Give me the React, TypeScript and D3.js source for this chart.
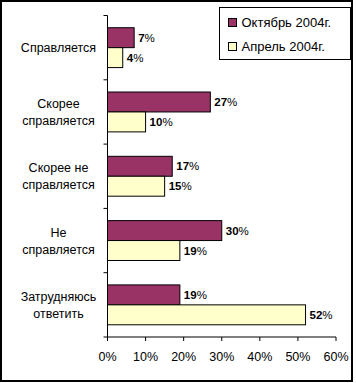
import React from "react";
import * as d3 from "d3";

const categories = [
  ["Справляется"],
  ["Скорее", "справляется"],
  ["Скорее не", "справляется"],
  ["Не", "справляется"],
  ["Затрудняюсь", "ответить"],
];
const seriesNames = ["Октябрь 2004г.", "Апрель 2004г."];
const october = [7, 27, 17, 30, 19];
const april = [4, 10, 15, 19, 52];
const xTicks = [0, 10, 20, 30, 40, 50, 60];
const colors = ["#993366", "#FFFFCC"];

export default function App() {
  const W = 356, H = 383;
  const left = 107.5, right = 336, top = 15.5, bottom = 337;
  const x = d3.scaleLinear().domain([0, 60]).range([left, right]);
  const yOuter = d3.scaleBand<number>().domain(d3.range(categories.length)).range([top, bottom]);
  const y = d3.scaleBand<number>().domain(d3.range(categories.length)).range([top, bottom]).paddingInner(0.38).paddingOuter(0.19);
  const ySub = d3.scaleBand<number>().domain([0, 1]).range([0, y.bandwidth()]);
  const series = [october, april];
  const font = "Arial, 'Liberation Sans', sans-serif";
  const step = yOuter.step();
  return (
    <svg width={W} height={H} style={{ position: "absolute", left: 0, top: 0 }} fontFamily={font}>
      <rect x={0} y={0} width={W} height={H} fill="#fff" />
      <rect x={1} y={1} width={351} height={380} fill="#fff" stroke="#000" strokeWidth={2} />
      {/* bars */}
      {series.map((vals, s) =>
        vals.map((v, i) => {
          const by = (y(i) as number) + (ySub(s) as number);
          return (
            <g key={`${s}-${i}`}>
              <rect x={x(0)} y={by} width={x(v) - x(0)} height={ySub.bandwidth()} fill={colors[s]} stroke="#000" strokeWidth={1} />
              <text x={x(v) + 4} y={by + ySub.bandwidth() / 2 + 4} fontSize={11.5}>
                <tspan fontWeight="bold">{v}</tspan>
                <tspan>%</tspan>
              </text>
            </g>
          );
        })
      )}
      {/* y axis */}
      <line x1={left} x2={left} y1={top} y2={bottom} stroke="#000" />
      {d3.range(categories.length + 1).map((i) => (
        <line key={i} x1={left - 4} x2={left} y1={top + i * step} y2={top + i * step} stroke="#000" />
      ))}
      {categories.map((lines, i) => {
        const cy = (yOuter(i) as number) + step / 2;
        const lh = 17;
        const y0 = cy - ((lines.length - 1) * lh) / 2 + 4.5;
        return (
          <text key={i} x={58.5} textAnchor="middle" fontSize={12.5}>
            {lines.map((l, j) => (
              <tspan key={j} x={58.5} y={y0 + j * lh}>{l}</tspan>
            ))}
          </text>
        );
      })}
      {/* x axis */}
      <line x1={left} x2={right} y1={bottom} y2={bottom} stroke="#000" />
      {xTicks.map((t) => (
        <g key={t}>
          <line x1={x(t)} x2={x(t)} y1={bottom} y2={bottom + 4} stroke="#000" />
          <text x={x(t)} y={361} textAnchor="middle" fontSize={12.5}>{t}%</text>
        </g>
      ))}
      {/* legend */}
      <rect x={219.5} y={7.5} width={131} height={52} fill="#fff" stroke="#000" />
      {seriesNames.map((n, i) => (
        <g key={n}>
          <rect x={228.5} y={18.5 + i * 24} width={8} height={8} fill={colors[i]} stroke="#000" />
          <text x={241.5} y={27 + i * 24} fontSize={13}>{n}</text>
        </g>
      ))}
    </svg>
  );
}
